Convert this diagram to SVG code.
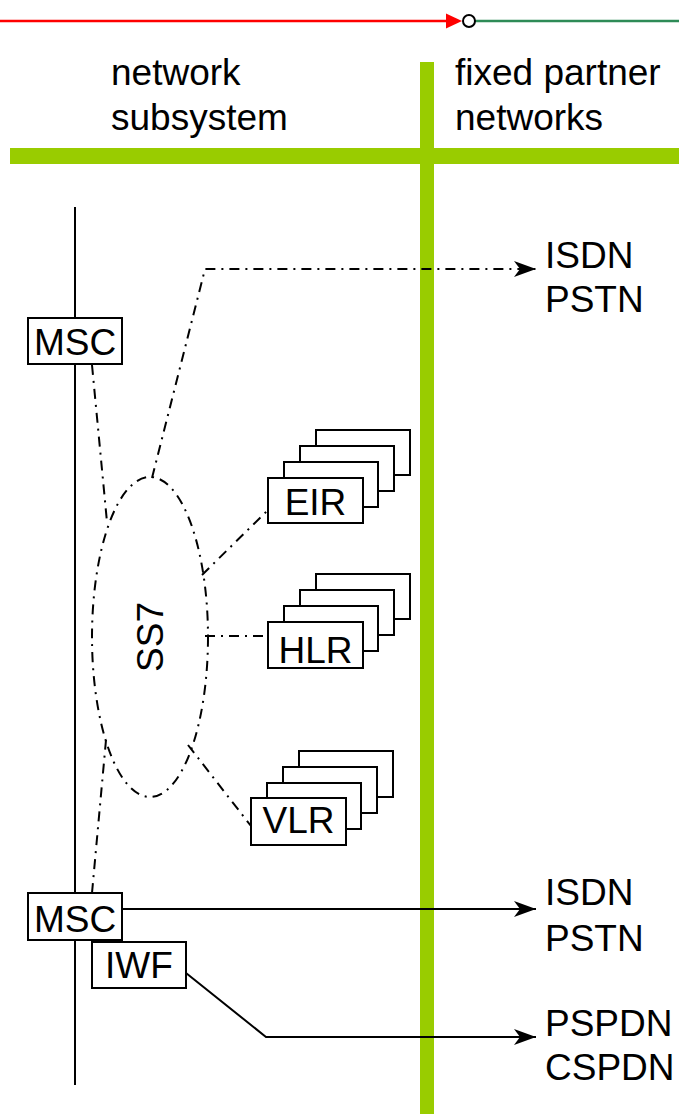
<svg xmlns="http://www.w3.org/2000/svg" width="679" height="1114" viewBox="0 0 679 1114">
<style>
text{font-family:"Liberation Sans",Arial,sans-serif;font-size:37px;fill:#000}
.box{fill:#fff;stroke:#000;stroke-width:2}
.ln{fill:none;stroke:#000;stroke-width:2}
.dd{fill:none;stroke:#000;stroke-width:2;stroke-dasharray:10,6,2,6}
.bar{fill:#99cc00}
.c{text-anchor:middle}
</style>
<defs>
<marker id="arr" markerWidth="22" markerHeight="16" refX="22" refY="8" orient="auto" markerUnits="userSpaceOnUse">
<path d="M0,0 L22,8 L0,16 L6,8 Z" fill="#000"/>
</marker>
</defs>
<g id="legend">
<line x1="0" y1="21" x2="448" y2="21" stroke="#ff0000" stroke-width="2.5"/>
<path d="M446,13.5 L462,21 L446,28.5 Z" fill="#ff0000"/>
<line x1="475" y1="21" x2="679" y2="21" stroke="#2e8b57" stroke-width="2.5"/>
<circle cx="469" cy="21" r="6" fill="#fff" stroke="#000" stroke-width="2"/>
</g>
<g id="bars">
<rect class="bar" x="420" y="62" width="14" height="1052"/>
<rect class="bar" x="10" y="148" width="669" height="16"/>
</g>
<g id="headers">
<text x="111" y="85">network</text>
<text x="111" y="130">subsystem</text>
<text x="455" y="85">fixed partner</text>
<text x="455" y="130">networks</text>
</g>
<g id="connectors">
<line class="ln" x1="75" y1="207" x2="75" y2="1085"/>
<path class="dd" d="M152,478 L205,269 L536,269" marker-end="url(#arr)"/>
<line class="dd" x1="92" y1="365" x2="107" y2="522"/>
<line class="dd" x1="202" y1="575" x2="268" y2="510"/>
<line class="dd" x1="205" y1="636" x2="268" y2="636"/>
<line class="dd" x1="188" y1="745" x2="251" y2="826"/>
<line class="dd" x1="92" y1="893" x2="106" y2="740"/>
<line class="ln" x1="122" y1="909" x2="536" y2="909" marker-end="url(#arr)"/>
<path class="ln" d="M186,973 L266,1037 L536,1037" marker-end="url(#arr)"/>
</g>
<g id="ss7">
<ellipse class="dd" cx="150" cy="637" rx="58" ry="160"/>
<text class="c" transform="translate(163,637) rotate(-90)">SS7</text>
</g>
<g id="msc1">
<rect class="box" x="28" y="318" width="94" height="46"/>
<text class="c" x="75" y="355">MSC</text>
</g>
<g id="eir">
<rect class="box" x="316" y="430" width="94" height="45"/>
<rect class="box" x="300" y="446" width="94" height="45"/>
<rect class="box" x="284" y="462" width="94" height="45"/>
<rect class="box" x="268" y="478" width="95" height="45"/>
<text class="c" x="315.5" y="515">EIR</text>
</g>
<g id="hlr">
<rect class="box" x="316" y="574" width="94" height="45"/>
<rect class="box" x="300" y="590" width="94" height="45"/>
<rect class="box" x="284" y="606" width="94" height="45"/>
<rect class="box" x="268" y="622" width="95" height="46"/>
<text class="c" x="315.5" y="663">HLR</text>
</g>
<g id="vlr">
<rect class="box" x="299" y="751" width="94" height="46"/>
<rect class="box" x="283" y="767" width="94" height="46"/>
<rect class="box" x="267" y="783" width="94" height="46"/>
<rect class="box" x="251" y="798" width="95" height="47"/>
<text class="c" x="298.5" y="833">VLR</text>
</g>
<g id="msc2">
<rect class="box" x="28" y="893" width="94" height="47"/>
<text class="c" x="75" y="932">MSC</text>
</g>
<g id="iwf">
<rect class="box" x="92" y="942" width="94" height="46"/>
<text class="c" x="139" y="978">IWF</text>
</g>
<g id="isdn1">
<text x="545" y="268">ISDN</text>
<text x="545" y="312">PSTN</text>
</g>
<g id="isdn2">
<text x="545" y="905">ISDN</text>
<text x="545" y="951">PSTN</text>
</g>
<g id="pspdn">
<text x="545" y="1036">PSPDN</text>
<text x="545" y="1080">CSPDN</text>
</g>
</svg>
